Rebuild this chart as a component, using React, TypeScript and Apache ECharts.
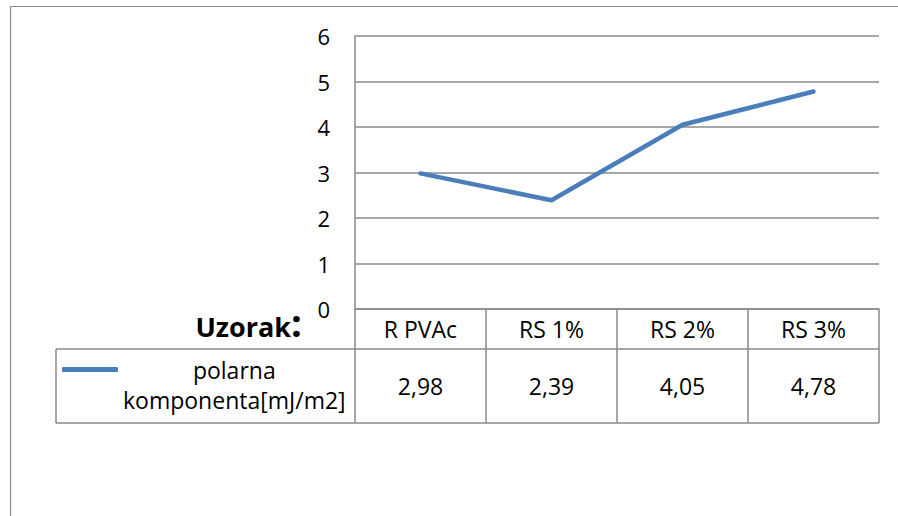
import React, { useEffect, useRef } from "react";
import * as echarts from "echarts";

const categories = ["R PVAc", "RS 1%", "RS 2%", "RS 3%"];
const values = [2.98, 2.39, 4.05, 4.78];
const valueLabels = values.map((v) => v.toFixed(2).replace(".", ","));
const seriesName = "polarna komponenta[mJ/m2]";
const yMin = 0;
const yMax = 6;
const yInterval = 1;
const rowLabel = "Uzorak";

const FONT = "'Open Sans', 'Noto Sans', sans-serif";
const GRID = "#8a8a8a";
const LINE = "#4a7ebb";

export default function App() {
  const ref = useRef<HTMLDivElement>(null);
  useEffect(() => {
    if (!ref.current) return;
    const chart = echarts.init(ref.current, undefined, { renderer: "svg" });
    const gridLeft = 355;
    const gridRight = 19;
    const gridTop = 36;
    const axisY = 309;
    const row1 = 40;
    const row2 = 74;
    chart.setOption({
      animation: false,
      backgroundColor: "#ffffff",
      textStyle: { fontFamily: FONT },
      grid: { left: gridLeft, right: gridRight, top: gridTop, bottom: 516 - axisY, containLabel: false },
      legend: {
        show: true,
        left: 62,
        top: 328,
        padding: 0,
        selectedMode: false,
        icon: "roundRect",
        itemWidth: 56,
        itemHeight: 5,
        data: [seriesName],
        formatter: () => "{a| }\n{a|polarna}\n{a|komponenta[mJ/m2]}",
        textStyle: {
          rich: {
            a: { fontFamily: FONT, fontSize: 23, lineHeight: 30, color: "#000", align: "center" },
          },
        },
      },
      xAxis: [
        {
          type: "category",
          data: categories,
          position: "bottom",
          boundaryGap: true,
          axisLine: { show: true, lineStyle: { color: GRID, width: 1.5 } },
          axisTick: { show: true, length: row1, inside: false, lineStyle: { color: GRID, width: 1.5 } },
          axisLabel: { margin: 8, fontSize: 23, lineHeight: 23, color: "#000", fontFamily: FONT, interval: 0 },
          splitLine: { show: false },
        },
        {
          type: "category",
          data: categories,
          position: "bottom",
          offset: row1,
          boundaryGap: true,
          axisLine: { show: true, lineStyle: { color: GRID, width: 1.5 } },
          axisTick: { show: true, length: row2, inside: false, lineStyle: { color: GRID, width: 1.5 } },
          axisLabel: {
            margin: 25,
            fontSize: 23,
            lineHeight: 23,
            color: "#000",
            fontFamily: FONT,
            interval: 0,
            formatter: (_v: string, i: number) => valueLabels[i],
          },
          splitLine: { show: false },
        },
      ],
      yAxis: {
        type: "value",
        min: yMin,
        max: yMax,
        interval: yInterval,
        axisLine: { show: true, lineStyle: { color: GRID, width: 1.5 } },
        axisTick: { show: false },
        axisLabel: { margin: 25, fontSize: 22, color: "#000", fontFamily: FONT },
        splitLine: { show: true, lineStyle: { color: GRID, width: 1.5 } },
      },
      series: [
        {
          name: seriesName,
          type: "line",
          data: values,
          showSymbol: false,
          symbol: "none",
          lineStyle: { color: LINE, width: 4.5, cap: "round", join: "round" },
          itemStyle: { color: LINE },
        },
      ],
      graphic: [
        {
          type: "rect",
          silent: true,
          shape: { x: 10.5, y: 6.5, width: 1000, height: 1000 },
          style: { fill: "none", stroke: "#8c8c8c", lineWidth: 1.2 },
        },
        {
          type: "line",
          silent: true,
          shape: { x1: 56, y1: axisY + row1, x2: gridLeft, y2: axisY + row1 },
          style: { stroke: GRID, lineWidth: 1.5 },
        },
        {
          type: "line",
          silent: true,
          shape: { x1: 56, y1: axisY + row1 + row2, x2: 898 - gridRight, y2: axisY + row1 + row2 },
          style: { stroke: GRID, lineWidth: 1.5 },
        },
        {
          type: "line",
          silent: true,
          shape: { x1: 56, y1: axisY + row1, x2: 56, y2: axisY + row1 + row2 },
          style: { stroke: GRID, lineWidth: 1.5 },
        },
        {
          type: "text",
          silent: true,
          x: 291,
          y: 326.5,
          style: {
            text: rowLabel,
            align: "right",
            verticalAlign: "middle",
            fontFamily: FONT,
            fontSize: 27,
            fontWeight: "bold",
            fill: "#000",
          },
        },
        {
          type: "text",
          silent: true,
          x: 291,
          y: 322,
          style: {
            text: ":",
            align: "left",
            verticalAlign: "middle",
            fontFamily: FONT,
            fontSize: 38,
            fontWeight: "bold",
            fill: "#000",
          },
        },
      ],
    });
    return () => chart.dispose();
  }, []);
  return (
    <div
      ref={ref}
      style={{ position: "fixed", left: 0, top: 0, width: 898, height: 516, background: "#fff" }}
    />
  );
}
